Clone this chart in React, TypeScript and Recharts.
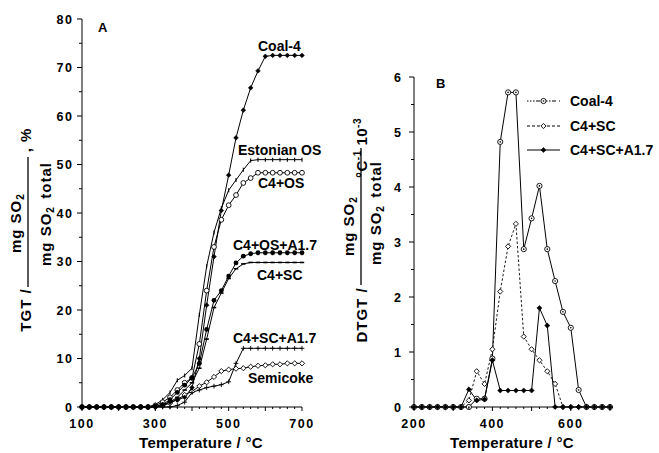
import React from 'react';
import { LineChart, Line, XAxis, YAxis } from 'recharts';

const FONT = "'Liberation Sans', Arial, Helvetica, sans-serif";

// ---------- Panel A : TGT (%) ----------
const tempsA = [100, 120, 140, 160, 180, 200, 220, 240, 260, 280, 300, 320, 340, 360, 380, 400, 420, 440, 460, 480, 500, 520, 540, 560, 580, 600, 620, 640, 660, 680, 700];
const coal4A = [0, 0, 0, 0, 0, 0, 0, 0, 0, 0, 0, 0.5, 1, 1.5, 2, 4, 10, 21, 31, 40.5, 47.8, 55.5, 61.2, 65.8, 69.3, 72.3, 72.5, 72.5, 72.5, 72.5, 72.5];
const estOSA = [0, 0, 0, 0, 0, 0, 0, 0, 0, 0, 0.5, 1.5, 3, 5.5, 6.5, 8, 19, 29, 36, 41, 44.7, 46.8, 48.9, 50.8, 51, 51, 51, 51, 51, 51, 51];
const c4osA = [0, 0, 0, 0, 0, 0, 0, 0, 0, 0, 0.3, 1, 2, 3.5, 5, 6, 13, 24, 33, 38.6, 41.6, 43.7, 46.2, 47.2, 48.3, 48.3, 48.3, 48.3, 48.3, 48.3, 48.3];
const c4osA17A = [0, 0, 0, 0, 0, 0, 0, 0, 0, 0, 0.2, 0.5, 1.5, 3, 4.5, 6, 9, 16, 22, 24, 27, 29.7, 31.1, 31.6, 31.8, 31.8, 31.8, 31.8, 31.8, 31.8, 31.8];
const c4scA = [0, 0, 0, 0, 0, 0, 0, 0, 0, 0, 0, 0.3, 1, 2, 3.5, 5, 8, 14, 20.5, 23.5, 26.5, 28.5, 29.5, 29.8, 29.8, 29.8, 29.8, 29.8, 29.8, 29.8, 29.8];
const c4scA17A = [0, 0, 0, 0, 0, 0, 0, 0, 0, 0, 0, 0, 0, 0.3, 1, 3, 3.5, 4, 4.3, 4.6, 5.2, 9, 12.1, 12.1, 12.1, 12.1, 12.1, 12.1, 12.1, 12.1, 12.1];
const semiA = [0, 0, 0, 0, 0, 0, 0, 0, 0, 0, 0, 0.3, 0.8, 1.5, 2.5, 3.2, 4.3, 5.1, 6.2, 7.4, 7.7, 7.9, 8.0, 8.3, 8.5, 8.6, 8.8, 8.8, 9.0, 9.0, 9.0];

const xTicksA = tempsA;
const xLabelsA = [100, 300, 500, 700];
const yTicksA = [0, 5, 10, 15, 20, 25, 30, 35, 40, 45, 50, 55, 60, 65, 70, 75, 80];
const yLabelsA = [0, 10, 20, 30, 40, 50, 60, 70, 80];

// ---------- Panel B : DTGT ----------
const tempsB = [200, 220, 240, 260, 280, 300, 320, 340, 360, 380, 400, 420, 440, 460, 480, 500, 520, 540, 560, 580, 600, 620, 640, 660, 680, 700];
const coal4B = [0, 0, 0, 0, 0, 0, 0, 0, 0.15, 0.15, 0.88, 4.82, 5.72, 5.72, 2.87, 3.43, 4.02, 2.87, 2.29, 1.73, 1.44, 0.31, 0, 0, 0, 0];
const c4scB = [0, 0, 0, 0, 0, 0, 0, 0.12, 0.65, 0.42, 1.05, 2.1, 2.92, 3.33, 1.28, 1.05, 0.85, 0.65, 0.42, 0, 0, 0, 0, 0, 0, 0];
const c4scA17B = [0, 0, 0, 0, 0, 0, 0, 0.32, 0.12, 0.14, 0.85, 0.3, 0.3, 0.3, 0.3, 0.3, 1.8, 1.48, 0, 0, 0, 0, 0, 0, 0, 0];

const xTicksB = tempsB;
const xLabelsB = [200, 400, 600];
const yTicksB = [0, 0.5, 1, 1.5, 2, 2.5, 3, 3.5, 4, 4.5, 5, 5.5, 6];
const yLabelsB = [0, 1, 2, 3, 4, 5, 6];

const rowsA = tempsA.map((t, i) => ({
  t,
  coal4: coal4A[i],
  estOS: estOSA[i],
  c4os: c4osA[i],
  c4osA17: c4osA17A[i],
  c4sc: c4scA[i],
  c4scA17: c4scA17A[i],
  semi: semiA[i],
}));

const rowsB = tempsB.map((t, i) => ({
  t,
  coal4: coal4B[i],
  c4sc: c4scB[i],
  c4scA17: c4scA17B[i],
}));

type Shape = 'diamond' | 'diamondOpen' | 'circle' | 'circleOpen' | 'circleDot' | 'plus' | 'dash' | 'vtick';

function marker(shape: Shape, cx: number, cy: number, s: number, key?: string) {
  const sw = 0.9;
  switch (shape) {
    case 'diamond':
      return <polygon key={key} points={`${cx},${cy - s} ${cx + s},${cy} ${cx},${cy + s} ${cx - s},${cy}`} fill="#000" stroke="#000" strokeWidth={0.5} />;
    case 'diamondOpen':
      return <polygon key={key} points={`${cx},${cy - s} ${cx + s},${cy} ${cx},${cy + s} ${cx - s},${cy}`} fill="#fff" stroke="#000" strokeWidth={sw} />;
    case 'circle':
      return <circle key={key} cx={cx} cy={cy} r={s} fill="#000" />;
    case 'circleOpen':
      return <circle key={key} cx={cx} cy={cy} r={s} fill="#fff" stroke="#000" strokeWidth={sw} />;
    case 'circleDot':
      return (
        <g key={key}>
          <circle cx={cx} cy={cy} r={s} fill="#fff" stroke="#000" strokeWidth={sw} />
          <circle cx={cx} cy={cy} r={0.8} fill="#000" />
        </g>
      );
    case 'plus':
      return (
        <g key={key} stroke="#000" strokeWidth={sw}>
          <line x1={cx - s} x2={cx + s} y1={cy} y2={cy} />
          <line x1={cx} x2={cx} y1={cy - s} y2={cy + s} />
        </g>
      );
    case 'dash':
      return <line key={key} x1={cx - s} x2={cx + s} y1={cy} y2={cy} stroke="#000" strokeWidth={1.6} />;
    case 'vtick':
    default:
      return <line key={key} x1={cx} x2={cx} y1={cy - s} y2={cy + s} stroke="#000" strokeWidth={1.1} />;
  }
}

const dotFor = (shape: Shape, s: number) => (p: any) => {
  const { cx, cy, index } = p;
  if (cx == null || cy == null || Number.isNaN(cx) || Number.isNaN(cy)) return <g key={`e${index}`} />;
  return marker(shape, cx, cy, s, `m${index}`);
};

const xTick = (labels: number[], dyLabel: number) => (p: any) => {
  const { x, y, payload } = p;
  const v = payload.value;
  const major = v % 100 === 0;
  return (
    <g>
      <line x1={x} x2={x} y1={y} y2={y + (major ? 4 : 2)} stroke="#000" strokeWidth={1} />
      {labels.includes(v) && (
        <text x={x} y={y + dyLabel} textAnchor="middle" fontFamily={FONT} fontWeight="bold" fontSize={12.5} letterSpacing={1.5} fill="#000">
          {v}
        </text>
      )}
    </g>
  );
};

const yTick = (labels: number[], gap: number) => (p: any) => {
  const { x, y, payload } = p;
  const v = payload.value;
  const major = labels.includes(v);
  return (
    <g>
      <line x1={x - (major ? 5 : 3)} x2={x} y1={y} y2={y} stroke="#000" strokeWidth={1} />
      {major && (
        <text x={x - gap} y={y} dy="0.36em" textAnchor="end" fontFamily={FONT} fontWeight="bold" fontSize={12.5} letterSpacing={1.5} fill="#000">
          {v}
        </text>
      )}
    </g>
  );
};

const Sub = ({ children }: { children: React.ReactNode }) => (
  <>
    <tspan dy={3} fontSize={10}>{children}</tspan>
    <tspan dy={-3}>{'\u200a'}</tspan>
  </>
);

const legendItems = [
  { name: 'Coal-4', dash: '1.5 1.5 1.5 1.5 1.5 1.5 4 3', shape: 'circleDot' as Shape, y: 101 },
  { name: 'C4+SC', dash: '3 2', shape: 'diamondOpen' as Shape, y: 126 },
  { name: 'C4+SC+A1.7', dash: undefined, shape: 'diamond' as Shape, y: 150 },
];

const annotationsA = [
  { text: 'Coal-4', x: 258, y: 51 },
  { text: 'Estonian OS', x: 238, y: 155 },
  { text: 'C4+OS', x: 258, y: 188 },
  { text: 'C4+OS+A1.7', x: 233, y: 250 },
  { text: 'C4+SC', x: 257, y: 280 },
  { text: 'C4+SC+A1.7', x: 233, y: 343 },
  { text: 'Semicoke', x: 248, y: 383 },
];

export default function App() {
  const lineCommon = {
    type: 'linear' as const,
    stroke: '#000',
    strokeWidth: 1,
    isAnimationActive: false,
    activeDot: false as const,
  };
  return (
    <div style={{ position: 'absolute', left: 0, top: 0, width: 659, height: 453, background: '#fff', overflow: 'hidden' }}>
      <div style={{ position: 'absolute', left: 0, top: 0 }}>
        <LineChart width={330} height={453} data={rowsA} margin={{ top: 19, right: 28, bottom: 16, left: 22 }}>
          <XAxis
            dataKey="t"
            type="number"
            domain={[100, 700]}
            ticks={xTicksA}
            interval={0}
            tickSize={0}
            tickMargin={0}
            tickLine={false}
            axisLine={{ stroke: '#000', strokeWidth: 1 }}
            tick={xTick(xLabelsA, 21)}
            height={30}
          />
          <YAxis
            type="number"
            domain={[0, 80]}
            ticks={yTicksA}
            interval={0}
            tickSize={0}
            tickMargin={0}
            tickLine={false}
            axisLine={{ stroke: '#000', strokeWidth: 1 }}
            tick={yTick(yLabelsA, 8.5)}
            width={60}
          />
          <Line {...lineCommon} dataKey="semi" dot={dotFor('diamondOpen', 2.6)} />
          <Line {...lineCommon} dataKey="c4scA17" dot={dotFor('plus', 2.4)} />
          <Line {...lineCommon} dataKey="c4sc" dot={dotFor('dash', 2.2)} />
          <Line {...lineCommon} dataKey="estOS" dot={dotFor('vtick', 2)} />
          <Line {...lineCommon} dataKey="c4os" dot={dotFor('circleOpen', 2.4)} />
          <Line {...lineCommon} dataKey="coal4" dot={dotFor('diamond', 2.4)} />
          <Line {...lineCommon} dataKey="c4osA17" dot={dotFor('circle', 2.4)} />
        </LineChart>
      </div>

      <div style={{ position: 'absolute', left: 330, top: 0 }}>
        <LineChart width={329} height={453} data={rowsB} margin={{ top: 77, right: 49, bottom: 16, left: 24 }}>
          <XAxis
            dataKey="t"
            type="number"
            domain={[200, 700]}
            ticks={xTicksB}
            interval={0}
            tickSize={0}
            tickMargin={0}
            tickLine={false}
            axisLine={{ stroke: '#000', strokeWidth: 1 }}
            tick={xTick(xLabelsB, 21)}
            height={30}
          />
          <YAxis
            type="number"
            domain={[0, 6]}
            ticks={yTicksB}
            interval={0}
            tickSize={0}
            tickMargin={0}
            tickLine={false}
            axisLine={{ stroke: '#000', strokeWidth: 1 }}
            tick={yTick(yLabelsB, 11.5)}
            width={60}
          />
          <Line {...lineCommon} dataKey="c4sc" strokeDasharray="2.5 2" strokeWidth={0.9} dot={dotFor('diamondOpen', 2.6)} />
          <Line {...lineCommon} dataKey="coal4" dot={dotFor('circleDot', 2.6)} />
          <Line {...lineCommon} dataKey="c4scA17" dot={dotFor('diamond', 2.6)} />
        </LineChart>
      </div>

      <svg
        width={659}
        height={453}
        style={{ position: 'absolute', left: 0, top: 0, pointerEvents: 'none' }}
        fontFamily={FONT}
        fontWeight="bold"
        fill="#000"
      >
        {/* panel letters */}
        <text x={98} y={32} fontSize={13}>A</text>
        <text x={436} y={88} fontSize={13}>B</text>

        {/* series annotations panel A */}
        {annotationsA.map((a) => (
          <text key={a.text} x={a.x} y={a.y} fontSize={14}>
            {a.text}
          </text>
        ))}

        {/* legend panel B */}
        {legendItems.map((it) => (
          <g key={it.name}>
            <line x1={527} x2={560} y1={it.y} y2={it.y} stroke="#000" strokeWidth={1} strokeDasharray={it.dash} />
            {marker(it.shape, 543.5, it.y, 2.6)}
            <text x={570} y={it.y + 5} fontSize={14}>
              {it.name}
            </text>
          </g>
        ))}

        {/* x-axis titles */}
        <text x={201} y={448} fontSize={15} textAnchor="middle" letterSpacing={0.3}>Temperature / °C</text>
        <text x={512} y={448} fontSize={15} textAnchor="middle" letterSpacing={0.3}>Temperature / °C</text>

        {/* y-axis title panel A */}
        <g transform="rotate(-90)" fontSize={15} letterSpacing={1}>
          <text x={-310} y={31} textAnchor="middle">TGT /</text>
          <text x={-222} y={21} textAnchor="middle">mg SO<Sub>2</Sub></text>
          <line x1={-287} x2={-157} y1={28} y2={28} stroke="#000" strokeWidth={1.3} />
          <text x={-214} y={51} textAnchor="middle">mg SO<Sub>2</Sub> total</text>
          <text x={-140} y={31} textAnchor="middle">, %</text>
        </g>

        {/* y-axis title panel B */}
        <g transform="rotate(-90)" fontSize={15} letterSpacing={1}>
          <text x={-315} y={367} textAnchor="middle">DTGT /</text>
          <text x={-225} y={354} textAnchor="middle">mg SO<Sub>2</Sub></text>
          <line x1={-285} x2={-148} y1={361} y2={361} stroke="#000" strokeWidth={1.3} />
          <text x={-213} y={381} textAnchor="middle">mg SO<Sub>2</Sub> total</text>
          <text x={-178} y={367} textAnchor="start" letterSpacing={0.5}>
            °C<tspan dy={-6} fontSize={10}>-1</tspan>
            <tspan dy={6}> 10</tspan>
            <tspan dy={-6} fontSize={10}>-3</tspan>
          </text>
        </g>
      </svg>
    </div>
  );
}
